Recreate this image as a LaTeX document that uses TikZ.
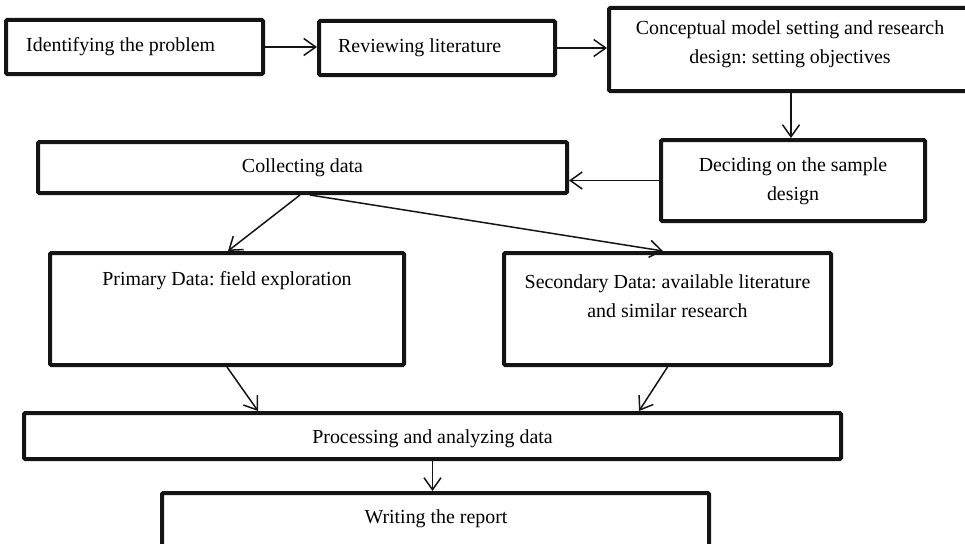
\documentclass[tikz,border=0pt]{standalone}
\usepackage{fontspec}
\setmainfont{Liberation Serif}
\usetikzlibrary{arrows.meta,calc}
\frenchspacing
\tikzset{
  box/.style={draw=black!92, line width=4pt, rounded corners=1.2pt, rectangle, inner sep=0pt},
  lbl/.style={inner sep=0pt, align=center, font=\fontsize{19.9}{28.5}\selectfont\frenchspacing},
  conn/.style={draw=black!92, line width=1.5pt, -{Straight Barb[length=12pt,width=17pt,line width=1.5pt]}}
}
\begin{document}
\begin{tikzpicture}[x=1pt,y=-1pt]
\useasboundingbox (0,0) rectangle (965,543);
% boxes
\node[box, minimum width=257pt, minimum height=54pt] (b1) at (134.5,47) {};
\node[box, minimum width=236pt, minimum height=54pt] (b2) at (437,48) {};
\node[box, minimum width=364pt, minimum height=83pt] (b3) at (791,49.5) {};
\node[box, minimum width=264pt, minimum height=81pt] (b4) at (793,180.5) {};
\node[box, minimum width=529pt, minimum height=51pt] (coll) at (302.5,167.5) {};
\node[box, minimum width=354pt, minimum height=112pt] (prim) at (227,309) {};
\node[box, minimum width=327pt, minimum height=112pt] (sec) at (667.5,309) {};
\node[box, minimum width=817pt, minimum height=46pt] (proc) at (432.5,436) {};
\node[box, minimum width=547pt, minimum height=56pt] (write) at (435.5,521) {};
% texts
\node[lbl, anchor=west] (t1) at (26,47) {Identifying the problem};
\node[lbl, anchor=west] (t2) at (338,48) {Reviewing literature};
\node[lbl] (t3) at (790,44) {Conceptual model setting and research\\design: setting objectives};
\node[lbl] (t4) at (793,181) {Deciding on the sample\\design};
\node[lbl] (tc) at (302.5,168) {Collecting data};
\node[lbl] (tp) at (227,281) {Primary Data: field exploration};
\node[lbl] (ts) at (667.5,296) {Secondary Data: available literature\\and similar research};
\node[lbl] (tpr) at (432.5,439) {Processing and analyzing data};
\node[lbl] (tw) at (436,519) {Writing the report};
% connectors
\draw[conn] (b1.east) -- (b1.east -| b2.west);
\draw[conn] (b2.east) -- (b2.east -| b3.west);
\draw[conn] (b3.south) -- (b3.south |- b4.north);
\draw[conn] (b4.west) -- (b4.west -| coll.east);
\draw[conn] ([xshift=-2.5pt]coll.south) -- ([xshift=1pt]prim.north);
\draw[conn] ([xshift=7.5pt]coll.south) -- ([xshift=-4.5pt]sec.north);
\draw[conn] (prim.south) -- ([xshift=-174.5pt]proc.north);
\draw[conn] (sec.south) -- ([xshift=206.5pt]proc.north);
\draw[conn] (proc.south) -- (proc.south |- write.north);
\end{tikzpicture}
\end{document}
